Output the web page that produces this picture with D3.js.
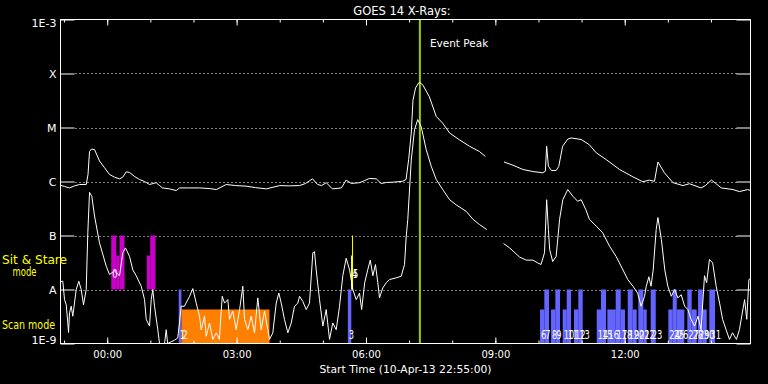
<!DOCTYPE html>
<html><head><meta charset="utf-8">
<script src="https://cdn.jsdelivr.net/npm/d3@7"></script>
<style>
html,body{margin:0;padding:0;background:#000;}
svg{display:block;background:#000;}
text{font-family:"DejaVu Sans",sans-serif;fill:#fff;}
</style></head><body>
<svg id="c" width="768" height="384"></svg>
<script>
// ---------------- DATA ----------------
// times are hours relative to 11-Apr-2013 00:00 UT; fluxes in W/m^2
const startTime = "2013-04-10T22:55:00Z";
const endTime   = "2013-04-11T14:55:00Z";
const peakTime = 7.25;

const longCurve = [
[-1.083,8.5e-7],[-0.99,8.1e-7],[-0.874,7.6e-7],[-0.758,8.3e-7],[-0.642,8.8e-7],[-0.487,8.8e-7],
[-0.445,1.35e-6],[-0.41,3.6e-6],[-0.364,4.0e-6],[-0.294,3.9e-6],[-0.179,2.4e-6],[-0.063,1.8e-6],
[0.053,1.35e-6],[0.17,1.2e-6],[0.285,1.12e-6],[0.355,1.19e-6],[0.44,1.51e-6],[0.517,1.47e-6],
[0.633,1.24e-6],[0.749,1.09e-6],[0.865,1.0e-6],[0.981,8.8e-7],[1.136,9.5e-7],[1.213,8.4e-7],
[1.282,7.6e-7],[1.445,7.3e-7],[1.6,6.8e-7],[1.677,7.6e-7],[1.91,7.6e-7],[2.14,7.6e-7],
[2.37,7.4e-7],[2.53,7.1e-7],[2.76,8.8e-7],[2.98,8.4e-7],[3.22,8.2e-7],[3.44,7.7e-7],
[3.69,7.3e-7],[4.0,8.4e-7],[4.23,8.3e-7],[4.46,8.4e-7],[4.6,9.2e-7],[4.76,1.12e-6],
[4.88,8.8e-7],[4.97,8.4e-7],[5.08,9.5e-7],[5.22,7.3e-7],[5.43,7.6e-7],[5.54,1.06e-6],
[5.66,9.2e-7],[5.85,9.5e-7],[5.97,1.04e-6],[6.08,1.14e-6],[6.24,1.12e-6],[6.35,9.2e-7],
[6.48,9.6e-7],[6.62,9.7e-7],[6.85,1.01e-6],[6.93,1.09e-6],[6.99,2.55e-6],[7.05,7.9e-6],
[7.09,3.2e-5],[7.15,5.4e-5],[7.22,6.7e-5],[7.25,6.8e-5],[7.32,6.1e-5],[7.47,3.7e-5],
[7.63,1.6e-5],[7.78,1.2e-5],[7.94,7.9e-6],[8.17,5.9e-6],[8.4,4.5e-6],[8.63,3.6e-6],
[8.77,2.9e-6],[9.0,null],
[9.2,2.3e-6],[9.41,2.0e-6],[9.64,1.67e-6],[9.87,1.53e-6],[10.1,1.45e-6],[10.16,1.55e-6],
[10.19,4.5e-6],[10.23,1.92e-6],[10.3,1.6e-6],[10.41,1.6e-6],[10.47,1.9e-6],[10.56,4.5e-6],
[10.68,6.1e-6],[10.76,6.4e-6],[10.99,6.0e-6],[11.18,4.8e-6],[11.34,3.4e-6],[11.57,2.55e-6],
[11.88,1.67e-6],[12.19,1.22e-6],[12.42,9.9e-7],[12.57,1.06e-6],[12.69,1.01e-6],[12.77,2.3e-6],
[12.92,1.45e-6],[13.12,9.5e-7],[13.35,8.4e-7],[13.5,9.1e-7],[13.77,7.6e-7],[13.87,8.4e-7],
[14.01,1.06e-6],[14.11,9.2e-7],[14.24,7.6e-7],[14.51,7.1e-7],[14.66,6.5e-7],[14.85,7.1e-7],
[14.92,6.8e-7]
];

const shortCurve = [
[-1.083,1.4e-8],[-1.03,1.42e-8],[-0.99,6.5e-9],[-0.95,5.2e-9],[-0.914,2.4e-9],[-0.897,1.6e-9],
[-0.874,3.7e-9],[-0.835,4.9e-9],[-0.798,3.2e-9],[-0.719,1.0e-8],[-0.659,1.42e-8],[-0.603,1.0e-8],
[-0.55,5.2e-9],[-0.487,1.0e-8],[-0.45,1.13e-7],[-0.41,6.3e-7],[-0.357,5.3e-7],[-0.294,2.3e-7],
[-0.179,7.3e-8],[-0.023,2.7e-8],[0.053,1.9e-8],[0.17,2.2e-8],[0.285,1.8e-8],[0.362,4.8e-8],
[0.424,5.9e-8],[0.517,4.1e-8],[0.594,2.3e-8],[0.672,1.8e-8],[0.788,1.15e-8],[0.865,6.5e-9],
[0.904,2.8e-9],[0.981,2.1e-9],[1.02,6.5e-9],[1.057,1.0e-8],[1.097,4.9e-9],[1.173,1.8e-9],
[1.213,1.0e-9],[1.33,1.0e-9],[1.368,1.8e-9],[1.4,1.0e-9],[1.56,1.15e-9],[1.637,1.27e-9],
[1.716,4.9e-9],[1.79,4.9e-9],[1.91,7.5e-9],[1.985,1.04e-8],[2.064,5.6e-9],[2.14,3.2e-9],
[2.18,1.8e-9],[2.256,3.2e-9],[2.296,1.36e-9],[2.372,2.4e-9],[2.449,1.19e-9],[2.528,1.58e-9],
[2.6,1.19e-9],[2.667,7.5e-9],[2.72,5.6e-9],[2.797,6.5e-9],[2.836,2.8e-9],[2.912,4.0e-9],
[2.99,1.8e-9],[3.07,4.25e-9],[3.144,1.15e-8],[3.184,2.8e-9],[3.26,1.8e-9],[3.339,3.2e-9],
[3.416,1.58e-9],[3.492,7.0e-9],[3.57,1.8e-9],[3.648,4.0e-9],[3.724,1.8e-9],[3.763,1.19e-9],
[3.84,1.58e-9],[3.919,5.6e-9],[3.979,8.6e-9],[4.035,5.6e-9],[4.11,2.8e-9],[4.188,1.58e-9],
[4.267,2.4e-9],[4.343,4.9e-9],[4.42,5.6e-9],[4.46,7.5e-9],[4.536,6.0e-9],[4.614,4.25e-9],
[4.69,5.6e-9],[4.768,4.8e-8],[4.807,5.0e-8],[4.846,2.3e-8],[4.923,6.5e-9],[5.0,2.1e-9],
[5.078,4.25e-9],[5.155,1.19e-9],[5.23,2.4e-9],[5.31,1.8e-9],[5.387,4.9e-9],[5.463,1.8e-8],
[5.542,3.8e-8],[5.62,2.3e-8],[5.695,1.0e-8],[5.774,6.5e-9],[5.85,8.6e-9],[5.9,4.25e-9],
[5.97,1.33e-8],[6.04,2.3e-8],[6.1,3.5e-8],[6.16,1.8e-8],[6.22,2.9e-8],[6.275,1.33e-8],
[6.314,7.0e-9],[6.39,1.07e-8],[6.47,1.33e-8],[6.546,1.53e-8],[6.7,1.64e-8],[6.817,1.76e-8],
[6.894,2.9e-8],[6.933,9.6e-8],[6.97,2.0e-7],[7.05,2.5e-6],[7.126,9.1e-6],[7.2,1.4e-5],
[7.28,1.04e-5],[7.397,3.9e-6],[7.513,1.92e-6],[7.629,1.09e-6],[7.78,7.1e-7],[7.94,4.6e-7],
[8.09,3.7e-7],[8.325,2.8e-7],[8.48,2.0e-7],[8.63,1.6e-7],[8.8,1.29e-7],[9.0,null],
[9.19,7.1e-8],[9.33,5.9e-8],[9.56,4.0e-8],[9.716,3.5e-8],[9.87,3.5e-8],[9.985,3.1e-8],
[10.06,2.9e-8],[10.14,4.8e-8],[10.19,4.6e-7],[10.23,1.29e-7],[10.26,5.5e-8],[10.33,3.3e-8],
[10.41,4.1e-8],[10.49,2.0e-7],[10.565,4.6e-7],[10.68,7.1e-7],[10.8,5.3e-7],[10.91,4.3e-7],
[10.99,4.6e-7],[11.1,3.0e-7],[11.18,2.0e-7],[11.34,1.49e-7],[11.49,1.12e-7],[11.65,6.3e-8],
[11.8,4.1e-8],[11.96,2.3e-8],[12.07,1.53e-8],[12.19,1.15e-8],[12.3,8.6e-9],[12.38,4.9e-9],
[12.46,7.5e-9],[12.5,1.15e-8],[12.56,1.72e-8],[12.61,1.15e-8],[12.66,2.3e-8],[12.73,1.29e-7],
[12.77,2.15e-7],[12.85,8.4e-8],[12.93,2.3e-8],[13.0,1.15e-8],[13.08,7.5e-9],[13.16,1.0e-8],
[13.23,7.0e-9],[13.31,8.0e-9],[13.39,4.9e-9],[13.465,4.25e-9],[13.54,2.8e-9],[13.62,2.1e-9],
[13.7,3.2e-9],[13.77,1.8e-9],[13.85,1.8e-8],[13.9,1.33e-8],[13.965,3.6e-8],[14.04,3.1e-8],
[14.12,1.15e-8],[14.2,5.6e-9],[14.27,2.8e-9],[14.35,1.8e-9],[14.43,1.19e-9],[14.5,1.58e-9],
[14.59,1.19e-9],[14.66,1.8e-9],[14.78,6.5e-9],[14.83,2.8e-9],[14.88,1.53e-8],[14.92,1.6e-8]
];

const yTickValues = [1e-9,1e-8,1e-7,1e-6,1e-5,1e-4,1e-3];
const yTickLabels = ["1E-9","A","B","C","M","X","1E-3"];
const gridValues  = [1e-8,1e-7,1e-6,1e-5,1e-4];

// observation segments
const barStart = [0.093,0.209,0.285,0.918,0.997, 1.658,1.72, 5.58, 5.653,5.677,
  10.036,10.136,10.291,10.391,10.562,10.655,10.824,10.924,11.351,11.45,11.597,11.791,11.907,
  12.07,12.186,12.315,12.431,12.603,13.011,13.113,13.206,13.452,13.553,13.7,13.809,13.962];
const barEnd   = [0.209,0.285,0.401,0.997,1.12, 1.72,3.763, 5.66, 5.692,5.7,
  10.136,10.245,10.391,10.5,10.655,10.755,10.924,11.026,11.45,11.566,11.791,11.907,12.007,
  12.186,12.278,12.431,12.51,12.719,13.113,13.206,13.382,13.553,13.669,13.809,13.901,14.094];
const barRow   = ["sit","sit","sit","sit","sit","scan","scan","scan","sit","sit",
  "scan","scan","scan","scan","scan","scan","scan","scan","scan","scan","scan","scan","scan",
  "scan","scan","scan","scan","scan","scan","scan","scan","scan","scan","scan","scan","scan"];
const barLevel = ["full","part","full","part","full","full","part","full","part","full",
  "part","full","part","full","part","full","part","full","part","full","part","full","part",
  "full","part","full","part","full","part","full","part","full","part","full","part","full"];
const barKind  = ["sitstare","sitstare","sitstare","sitstare","sitstare","raster","scan","raster","flare","flare",
  "raster","raster","raster","raster","raster","raster","raster","raster","raster","raster","raster","raster","raster",
  "raster","raster","raster","raster","raster","raster","raster","raster","raster","raster","raster","raster","raster"];
const barLabel = ["0","","","","","1","2","3","4","5",
  "6","7","8","9","10","11","12","13","14","15","16","17","18",
  "19","20","21","22","23","24","25","26","27","28","29","30","31"];

// ---------------- DRAWING ----------------
const L = 60.5, R = 750.5, T = 19.5, B = 343.5;
const T0 = Date.UTC(2013,3,11);
const toDate = h => new Date(T0 + h*3600000);

const svg = d3.select("#c");
const x = d3.scaleUtc().domain([new Date(startTime), new Date(endTime)]).range([L, R]);
const y = d3.scaleLog().domain([1e-9, 1e-3]).range([B, T]);

const kindColor = {sitstare:"#c800c8", raster:"#6464ff", scan:"#ff8000", flare:"#ffff00"};
const rowBase = {sit:1e-8, scan:1e-9};
const partFrac = 0.63;

// dotted grid
svg.append("g").selectAll("line").data(gridValues).join("line")
  .attr("x1", L + 15).attr("x2", R - 14)
  .attr("y1", d => Math.round(y(d)) + 0.5).attr("y2", d => Math.round(y(d)) + 0.5)
  .attr("stroke", "#fff").attr("stroke-width", 1).attr("stroke-dasharray", "1,3");

// bars
const bars = barStart.map((s,i) => ({s, e: barEnd[i], row: barRow[i], level: barLevel[i], kind: barKind[i], label: barLabel[i]}));
const barTop = d => {
  const b = Math.log10(rowBase[d.row]);
  return Math.pow(10, b + (d.level === "full" ? 1 : partFrac));
};
svg.append("g").selectAll("rect").data(bars).join("rect")
  .attr("x", d => x(toDate(d.s)))
  .attr("width", d => Math.max(1, x(toDate(d.e)) - x(toDate(d.s))))
  .attr("y", d => y(barTop(d)))
  .attr("height", d => y(rowBase[d.row]) - y(barTop(d)))
  .attr("fill", d => kindColor[d.kind]);

// event peak line
svg.append("line")
  .attr("x1", x(toDate(peakTime))).attr("x2", x(toDate(peakTime)))
  .attr("y1", T).attr("y2", B)
  .attr("stroke", "#9acd00").attr("stroke-width", 2);
svg.append("text").attr("x", x(toDate(peakTime)) + 10).attr("y", 47)
  .attr("font-size", "10.5px").text("Event Peak");

// curves
const line = d3.line()
  .defined(d => d[1] != null)
  .x(d => x(toDate(d[0])))
  .y(d => y(d[1]));
[longCurve, shortCurve].forEach(c => {
  svg.append("path").datum(c).attr("d", line)
    .attr("fill", "none").attr("stroke", "#fff").attr("stroke-width", 1);
});

// bar labels (tall, narrow digits)
svg.append("g").selectAll("text").data(bars.filter(d => d.label !== "")).join("text")
  .attr("x", d => x(toDate(d.s)) + 1)
  .attr("y", d => d.row === "scan" ? y(rowBase.scan) - 5 : y(rowBase.sit) - 12)
  .attr("font-size", "13px")
  .attr("textLength", d => d.label.length * 5.3)
  .attr("lengthAdjust", "spacingAndGlyphs")
  .text(d => d.label);

// axes
function style(g){
  g.attr("color", "#fff");
  g.select(".domain").remove();
  g.selectAll("text").attr("fill", "#fff").attr("font-family", "DejaVu Sans");
}
svg.append("g").attr("transform", `translate(0,${B})`)
  .call(d3.axisBottom(x).ticks(d3.utcHour.every(1)).tickSize(-3).tickFormat(""))
  .call(style);
svg.append("g").attr("transform", `translate(0,${B})`)
  .call(d3.axisBottom(x).ticks(d3.utcHour.every(3)).tickSize(-6).tickPadding(7).tickFormat(d3.utcFormat("%H:%M")))
  .call(style)
  .call(g => g.selectAll("text").attr("font-size", "10px"));
svg.append("g").attr("transform", `translate(0,${T})`)
  .call(d3.axisTop(x).ticks(d3.utcHour.every(1)).tickSize(-3).tickFormat(""))
  .call(style);
svg.append("g").attr("transform", `translate(0,${T})`)
  .call(d3.axisTop(x).ticks(d3.utcHour.every(3)).tickSize(-6).tickFormat(""))
  .call(style);
svg.append("g").attr("transform", `translate(${L},0)`)
  .call(d3.axisLeft(y).tickValues(yTickValues).tickSize(-14).tickPadding(4)
    .tickFormat((d,i) => yTickLabels[i]))
  .call(style)
  .call(g => g.selectAll("text").attr("font-size", "11px")
    .attr("transform", d => d === 1e-3 ? "translate(0,3.5)" : d === 1e-9 ? "translate(0,-4)" : null));
svg.append("g").attr("transform", `translate(${R},0)`)
  .call(d3.axisRight(y).tickValues(yTickValues).tickSize(-14).tickFormat(""))
  .call(style);

// frame
svg.append("rect").attr("x", L).attr("y", T).attr("width", R - L).attr("height", B - T)
  .attr("fill", "none").attr("stroke", "#fff").attr("stroke-width", 1);

// titles
svg.append("text").attr("x", 402).attr("y", 14.5).attr("text-anchor", "middle")
  .attr("font-size", "11.5px").text("GOES 14 X-Rays:");
svg.append("text").attr("x", 405.5).attr("y", 373).attr("text-anchor", "middle")
  .attr("font-size", "10px").attr("textLength", 172).attr("lengthAdjust", "spacingAndGlyphs")
  .text("Start Time (10-Apr-13 22:55:00)");

// mode labels
svg.append("text").attr("x", 2).attr("y", 263.5).attr("font-size", "12px")
  .style("fill", "#ffff00").attr("textLength", 65).attr("lengthAdjust", "spacingAndGlyphs").text("Sit & Stare");
svg.append("text").attr("x", 12.5).attr("y", 275.5).attr("font-size", "12px")
  .style("fill", "#ffff00").attr("textLength", 24).attr("lengthAdjust", "spacingAndGlyphs").text("mode");
svg.append("text").attr("x", 2).attr("y", 328.5).attr("font-size", "12px")
  .style("fill", "#ffff00").attr("textLength", 53).attr("lengthAdjust", "spacingAndGlyphs").text("Scan mode");
</script>
</body></html>
